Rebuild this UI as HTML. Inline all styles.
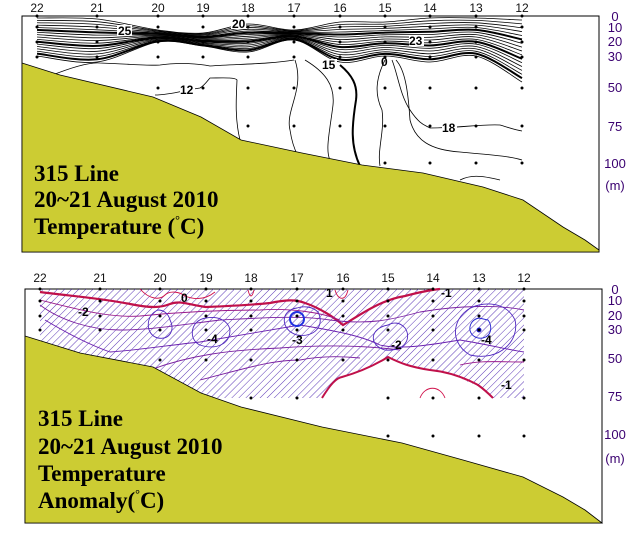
<!DOCTYPE html>
<html><head><meta charset="utf-8"><style>
html,body{margin:0;padding:0;background:#fff;}
body{width:631px;height:545px;overflow:hidden;}
svg{display:block;}
.st{font-family:"Liberation Sans",sans-serif;font-size:12px;fill:#111;}
.dp{font-family:"Liberation Sans",sans-serif;font-size:13px;fill:#3a0070;}
.tt{font-family:"Liberation Serif",serif;font-size:23px;font-weight:bold;fill:#000;}
.cl{font-family:"Liberation Sans",sans-serif;font-size:12px;font-weight:bold;fill:#000;}
</style></head><body>
<svg id="s" width="631" height="545" viewBox="0 0 631 545" xmlns="http://www.w3.org/2000/svg">
<defs>
<pattern id="h" width="5" height="5" patternUnits="userSpaceOnUse" patternTransform="rotate(45)">
<line x1="0" y1="0" x2="0" y2="5" stroke="#4a22b0" stroke-width="0.9"/>
</pattern>
</defs>
<!-- TOP PANEL -->
<rect x="22" y="16" width="577" height="236" fill="#fff" stroke="#000" stroke-width="1"/>
<g id="topc" fill="none" stroke="#000" stroke-width="0.8"></g>
<g fill="none" stroke="#000">
<path d="M50,76 C70,68 90,62 100,63 C130,64 150,66 160,65 C180,62 200,64 210,66 C240,64 270,64 294,60" stroke-width="0.8"/>
<path d="M295,60 C305,90 285,110 290,130 C293,150 298,155 299,158" stroke-width="0.8"/>
<path d="M305,60 C325,72 335,85 333,105 C330,130 325,150 330,160" stroke-width="0.8"/>
<path d="M340,65 C352,75 358,85 356,100 C352,125 350,145 360,166" stroke-width="2"/>
<path d="M385,60 C375,80 375,95 382,110 C385,130 377,150 380,166" stroke-width="0.8"/>
<path d="M392,60 C398,75 400,95 410,110 C420,125 425,125 430,128 C460,128 480,124 500,125 C510,128 515,130 522,131" stroke-width="0.8"/>
<path d="M396,60 C405,70 408,90 410,120 C415,140 430,150 460,152 C490,155 510,156 522,160" stroke-width="0.8"/>
<path d="M460,180 C470,175 480,175 500,180" stroke-width="0.8"/>
<path d="M155,95 C170,95 185,90 200,88 C205,85 208,80 210,78 C220,78 235,77 237,80 C236,100 235,120 240,140" stroke-width="0.8"/>
</g>
<path d="M22,63 L60,75 L153,97 L201,117 L241,140 L302,153 L362,165 L423,173 L483,187 L523,200 L563,227 L585,240 L599,250 L599,252 L22,252 Z" fill="#cccc33" stroke="#000" stroke-width="0.8"/>
<g id="topd" fill="#000"></g>
<rect x="117" y="25" width="15" height="11" fill="#fff"/><text class="cl" x="118" y="35">25</text>
<rect x="231" y="18" width="15" height="11" fill="#fff"/><text class="cl" x="232" y="28">20</text>
<rect x="409" y="35" width="15" height="11" fill="#fff"/><text class="cl" x="409" y="45">23</text>
<rect x="322" y="59" width="15" height="11" fill="#fff"/><text class="cl" x="322" y="69">15</text>
<text class="cl" x="381" y="66">0</text>
<rect x="180" y="84" width="15" height="11" fill="#fff"/><text class="cl" x="180" y="94">12</text>
<rect x="442" y="122" width="15" height="11" fill="#fff"/><text class="cl" x="442" y="132">18</text>
<text class="tt" x="34" y="181">315 Line</text>
<text class="tt" x="34" y="207">20~21 August 2010</text>
<text class="tt" x="34" y="234">Temperature (<tspan font-size="12" dy="-10">°</tspan><tspan dy="10">C)</tspan></text>

<!-- BOTTOM PANEL -->
<rect x="25" y="289" width="577" height="234" fill="#fff" stroke="#000" stroke-width="1"/>
<path d="M40,289 L524,289 L524,398 L493,398 C485,390 478,385 470,383 C455,375 445,370 430,370 C415,368 405,365 390,357 C375,365 360,372 342,377 C330,385 325,392 322,398 L210,398 L201,393 L153,367 L80,353 L40,342 Z" fill="url(#h)"/>
<g fill="none" stroke-width="0.9">
<path d="M40,292 C70,296 100,298 130,304 C150,308 160,308 170,304 C180,300 190,305 206,307 C230,306 250,305 270,303 C285,300 295,299 305,303 C320,308 335,318 343,325 C360,315 380,300 405,296 C420,292 430,290 440,289" stroke="#c0104a" stroke-width="2.2"/>
<path d="M322,398 C330,385 336,378 342,377 C360,372 375,365 388,357 C400,363 410,367 430,370 C450,372 465,378 478,385 C485,390 490,395 493,398" stroke="#c0104a" stroke-width="2"/>
<path d="M140,289 C150,300 160,300 165,295 C170,290 180,292 185,296 C195,300 205,300 215,292" stroke="#d0104a"/>
<path d="M248,290 C250,298 252,298 254,290" stroke="#d0104a"/>
<path d="M335,290 C338,300 345,302 348,290" stroke="#d0104a"/>
<path d="M420,398 C425,385 440,385 445,398" stroke="#d0104a"/>
<path d="M40,300 C80,310 110,318 140,316 C180,312 220,310 260,310 C290,308 320,312 340,320" stroke="#9a1a8a"/>
<path d="M40,305 C60,320 90,330 120,330 C150,330 180,325 220,320 C260,318 300,315 330,320 C370,325 390,320 420,312 C460,305 500,305 524,310" stroke="#7a20a0"/>
<path d="M45,320 C70,335 90,345 110,352 C140,350 170,345 200,342 C240,335 270,330 300,325 C330,330 360,335 380,345 C400,350 430,345 460,340 C490,345 510,350 524,352" stroke="#6a20b0"/>
<path d="M150,370 C190,355 230,350 280,348 C320,345 360,345 400,350" stroke="#7a20a0"/>
<path d="M200,380 C240,370 270,360 300,360 C320,356 340,356 360,358" stroke="#7a20a0"/>
<path d="M460,365 C480,360 500,362 524,362" stroke="#9a1a8a"/>
<path d="M158,310 C145,315 145,335 158,338 C170,340 175,330 170,320 C168,312 162,310 158,310 Z" stroke="#5028c0"/>
<path d="M206,318 C190,320 188,340 200,345 C215,350 230,345 230,330 C228,320 218,316 206,318 Z" stroke="#5028c0"/>
<path d="M297,308 C280,310 280,330 297,335 C315,338 325,325 318,312 C312,306 303,306 297,308 Z" stroke="#5028c0"/>
<path d="M388,325 C370,328 368,345 385,350 C405,352 412,338 405,328 C400,322 393,322 388,325 Z" stroke="#5028c0"/>
<path d="M479,305 C455,310 445,340 470,355 C500,362 520,340 515,320 C508,305 492,302 479,305 Z" stroke="#5028c0"/>
<path d="M479,318 C468,320 466,335 478,338 C490,340 494,328 488,320 Z" stroke="#2020d0"/>
<ellipse cx="297" cy="319" rx="7" ry="7" stroke="#2030e0" stroke-width="2"/>
<path d="M160,372 C155,382 165,388 170,380" stroke="#9a1a8a"/>
</g>
<circle cx="479" cy="330" r="2.5" fill="#2020e0"/>
<path d="M25,336 L80,353 L153,367 L201,393 L241,407 L322,427 L402,443 L463,460 L523,477 L563,497 L585,510 L602,523 L602,523 L25,523 Z" fill="#cccc33" stroke="#000" stroke-width="0.8"/>
<g id="botd" fill="#000"></g>
<text class="cl" x="181" y="302">0</text>
<text class="cl" x="326" y="297">1</text>
<text class="cl" x="441" y="297">-1</text>
<text class="cl" x="78" y="316">-2</text>
<text class="cl" x="207" y="343">-4</text>
<text class="cl" x="292" y="344">-3</text>
<text class="cl" x="391" y="349">-2</text>
<text class="cl" x="481" y="344">-4</text>
<text class="cl" x="501" y="389">-1</text>
<text class="tt" x="38" y="426">315 Line</text>
<text class="tt" x="38" y="454">20~21 August 2010</text>
<text class="tt" x="38" y="481">Temperature</text>
<text class="tt" x="38" y="508">Anomaly(<tspan font-size="12" dy="-10">°</tspan><tspan dy="10">C)</tspan></text>
</svg>
<script>
(function(){
var NS="http://www.w3.org/2000/svg",svg=document.getElementById('s');
function el(p,t,a){var e=document.createElementNS(NS,t);for(var k in a)e.setAttribute(k,a[k]);p.appendChild(e);return e;}
function txt(x,y,s,c,anchor){var t=el(svg,'text',{x:x,y:y,'class':c,'text-anchor':anchor||'middle'});t.textContent=s;}
var names=['22','21','20','19','18','17','16','15','14','13','12'];
var tx=[37,97,158,203,248,294,340,385,430,476,522];
var bx=[40,100,160,206,251,297,343,388,433,479,524];
names.forEach(function(n,i){txt(tx[i],12,n,'st');txt(bx[i],282,n,'st');});
var dl=[['0',21],['10',32],['20',46],['30',61],['50',92],['75',131],['100',168],['(m)',190]];
dl.forEach(function(d){txt(615,d[1],d[0],'dp');});
var dl2=[['0',294],['10',305],['20',320],['30',334],['50',363],['75',401],['100',439],['(m)',463]];
dl2.forEach(function(d){txt(615,d[1],d[0],'dp');});
var dy=[16,27,42,57,88,126,163];
var tmax=[4,4,4,4,5,5,5,6,6,6,6];
var gd=document.getElementById('topd');
for(var i=0;i<11;i++){for(var j=0;j<=tmax[i];j++){if(i==0&&j==4)continue;if(i<3&&j==4&&i!=2)continue;el(gd,'circle',{cx:tx[i],cy:dy[j],r:1.5});}}
var bdy=[289,301,316,330,360,398,436];
var bmax=[3,3,4,4,5,5,4,6,6,6,6];
var gb=document.getElementById('botd');
for(var i=0;i<11;i++){for(var j=0;j<=bmax[i];j++){el(gb,'circle',{cx:bx[i],cy:bdy[j],r:1.5});}}
var top=[18,19,30,33,24,30,22,22,18,18,20];
var bot=[56,62,42,46,52,40,62,56,62,56,82];
var g=document.getElementById('topc');
var N=16;
for(var k=0;k<=N;k++){
 var pts=[];
 for(var i=0;i<11;i++){var y=top[i]+(bot[i]-top[i])*k/N;pts.push([tx[i],y]);}
 var d='M'+pts[0][0]+','+pts[0][1];
 for(var i=0;i<pts.length-1;i++){
  var p0=pts[Math.max(0,i-1)],p1=pts[i],p2=pts[i+1],p3=pts[Math.min(pts.length-1,i+2)];
  var c1x=p1[0]+(p2[0]-p0[0])/6,c1y=p1[1]+(p2[1]-p0[1])/6,c2x=p2[0]-(p3[0]-p1[0])/6,c2y=p2[1]-(p3[1]-p1[1])/6;
  d+=' C'+c1x.toFixed(1)+','+c1y.toFixed(1)+' '+c2x.toFixed(1)+','+c2y.toFixed(1)+' '+p2[0]+','+p2[1].toFixed(1);
 }
 var w=(k==5||k==10||k==15)?2:0.8;
 el(g,'path',{d:d,'stroke-width':w});
}
})();
</script>
</body></html>
